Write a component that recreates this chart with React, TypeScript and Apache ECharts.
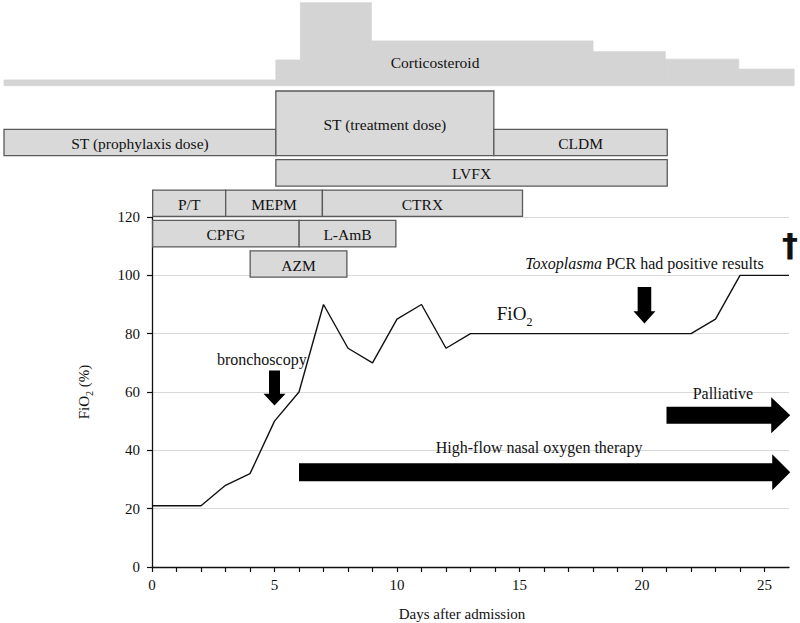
import { useEffect, useRef } from 'react';
import * as echarts from 'echarts';

// FiO2 course (days after admission, %)
const days = [0, 1, 2, 3, 4, 5, 6, 7, 8, 9, 10, 11, 12, 13, 14, 15, 16, 17, 18, 19, 20, 21, 22, 23, 24, 25, 26];
const fio2 = [21, 21, 21, 28, 32, 50, 60, 90, 75, 70, 85, 90, 75, 80, 80, 80, 80, 80, 80, 80, 80, 80, 80, 85, 100, 100, 100];

const xTicks = [0, 5, 10, 15, 20, 25];
const yTicks = [0, 20, 40, 60, 80, 100, 120];

// Corticosteroid relative dose (% of peak) per period [startDay, endDay]
const steroidStart = [-6, 5.1, 6.1, 9.0, 18.05, 21.0, 24.0];
const steroidEnd = [5.1, 6.1, 9.0, 18.05, 21.0, 24.0, 26.26];
const steroidDose = [6.9, 31, 100, 54, 41, 32, 20];
const steroidLabel = { text: 'Corticosteroid', day: 11.6, dose: 28.5 };

// Treatments (Gantt): label, start day, end day, row
const drugLabels = ['ST (prophylaxis dose)', 'ST (treatment dose)', 'CLDM', 'LVFX', 'P/T', 'MEPM', 'CTRX', 'CPFG', 'L-AmB', 'AZM'];
const drugStart = [-6, 5.1, 14.0, 5.1, 0.07, 3.05, 7.0, 0.07, 6.05, 4.05];
const drugEnd = [5.1, 14.0, 21.08, 21.08, 3.05, 7.0, 15.17, 6.05, 10.0, 8.0];
const drugRow = [0, 0, 0, 1, 2, 2, 2, 3, 3, 4];
const drugExtraRows = [0, 1.26, 0, 0, 0, 0, 0, 0, 0, 0];

// Block arrows: [fromDay, fromFiO2, toDay, toFiO2]
const arrowFrom = [[6, 32.5], [21, 52], [5, 67.4], [20.1, 96]];
const arrowTo = [[26.05, 32.5], [26.05, 52], [5, 55.4], [20.1, 83.5]];
const arrowShaft = [18, 17, 11, 13.6];
const arrowHead = [36, 36, 22, 22];
const arrowHeadLen = [18, 19, 11.7, 12.3];

// Annotations: [day, FiO2]
const noteText = [
  'High-flow nasal oxygen therapy',
  'Palliative',
  'bronchoscopy',
  '{i|Toxoplasma} PCR had positive results',
  '{m|FiO}{s|2}',
  '{d|†}',
];
const notePos = [[15.8, 41], [23.3, 59.4], [4.48, 71.2], [20.1, 104], [14.8, 87], [26.04, 110.5]];

const FONT = "'Liberation Serif', 'Times New Roman', serif";

export default function App() {
  const ref = useRef<HTMLDivElement>(null);
  useEffect(() => {
    document.body.style.margin = '0';
    const chart = echarts.init(ref.current!, null, { renderer: 'svg' });
    const option: any = {
      animation: false,
      backgroundColor: '#ffffff',
      textStyle: { fontFamily: FONT },
      grid: [
        { left: 152, right: 11, top: 217, bottom: 56, outerBoundsMode: 'none', containLabel: false },
        { left: 4, width: 796, top: 112.125, height: 151.875, outerBoundsMode: 'none' },
        { left: 4, width: 796, top: 2.7, height: 83, outerBoundsMode: 'none' },
      ],
      xAxis: [
        {
          gridIndex: 0,
          type: 'value',
          min: 0,
          max: 26,
          interval: 1,
          name: 'Days after admission',
          nameLocation: 'middle',
          nameGap: 39,
          nameTextStyle: { fontFamily: FONT, fontSize: 15, color: '#111', padding: [0, 17, 0, 0] },
          axisLine: { show: true, lineStyle: { color: '#111', width: 1.3 } },
          axisTick: { show: true, length: 5, lineStyle: { color: '#111', width: 1.2 } },
          axisLabel: {
            fontFamily: FONT,
            fontSize: 15,
            color: '#111',
            margin: 10,
            showMaxLabel: false,
            formatter: (v: number) => (xTicks.indexOf(v) >= 0 ? String(v) : ''),
          },
          splitLine: { show: false },
        },
        { gridIndex: 1, type: 'value', min: -6, max: 26.5, show: false },
        { gridIndex: 2, type: 'value', min: -6, max: 26.5, show: false },
      ],
      yAxis: [
        {
          gridIndex: 0,
          type: 'value',
          min: yTicks[0],
          max: yTicks[yTicks.length - 1],
          interval: 20,
          name: '{m|FiO}{s|2}{m| (%)}',
          nameLocation: 'middle',
          nameRotate: 90,
          nameGap: 58,
          nameTextStyle: {
            fontFamily: FONT,
            color: '#111',
            rich: {
              m: { fontFamily: FONT, fontSize: 15, lineHeight: 20, color: '#111' },
              s: { fontFamily: FONT, fontSize: 10, lineHeight: 10, verticalAlign: 'bottom', color: '#111' },
            },
          },
          axisLine: { show: true, lineStyle: { color: '#111', width: 1.3 } },
          axisTick: { show: true, length: 5, lineStyle: { color: '#111', width: 1.2 } },
          axisLabel: { fontFamily: FONT, fontSize: 15, color: '#111', margin: 12 },
          splitLine: { show: true, lineStyle: { color: '#d9d9d9', width: 1 } },
        },
        { gridIndex: 1, type: 'value', min: -1, max: 4, inverse: true, show: false },
        { gridIndex: 2, type: 'value', min: 0, max: 100, show: false },
      ],
      series: [
        {
          type: 'custom',
          name: 'Corticosteroid',
          xAxisIndex: 2,
          yAxisIndex: 2,
          clip: false,
          silent: true,
          data: steroidDose.map((d, i) => [steroidStart[i], steroidEnd[i], d]),
          encode: { x: [0, 1], y: 2 },
          renderItem: (params: any, api: any) => {
            const i = params.dataIndex;
            const p1 = api.coord([steroidStart[i], steroidDose[i]]);
            const p2 = api.coord([steroidEnd[i], 0]);
            return {
              type: 'rect',
              shape: { x: p1[0], y: p1[1], width: p2[0] - p1[0], height: p2[1] - p1[1] },
              style: { fill: '#d4d4d4', stroke: '#d4d4d4', lineWidth: 0.8 },
            };
          },
        },
        {
          type: 'custom',
          name: 'CorticosteroidLabel',
          xAxisIndex: 2,
          yAxisIndex: 2,
          clip: false,
          silent: true,
          z: 5,
          data: [[steroidLabel.day, steroidLabel.dose]],
          renderItem: (params: any, api: any) => {
            const p = api.coord([steroidLabel.day, steroidLabel.dose]);
            return {
              type: 'text',
              style: {
                x: p[0],
                y: p[1],
                text: steroidLabel.text,
                align: 'center',
                verticalAlign: 'middle',
                fontFamily: FONT,
                fontSize: 15.5,
                fill: '#111',
              },
            };
          },
        },
        {
          type: 'custom',
          name: 'Treatments',
          xAxisIndex: 1,
          yAxisIndex: 1,
          clip: false,
          silent: true,
          z: 5,
          data: drugLabels.map((_, i) => [drugStart[i], drugEnd[i], drugRow[i]]),
          encode: { x: [0, 1], y: 2 },
          renderItem: (params: any, api: any) => {
            const i = params.dataIndex;
            const half = 0.435;
            const p1 = api.coord([drugStart[i], drugRow[i] - half - drugExtraRows[i]]);
            const p2 = api.coord([drugEnd[i], drugRow[i] + half]);
            return {
              type: 'rect',
              shape: { x: p1[0], y: p1[1], width: p2[0] - p1[0], height: p2[1] - p1[1] },
              style: { fill: '#d9d9d9', stroke: '#5a5a5a', lineWidth: 1.3 },
              textContent: {
                type: 'text',
                style: {
                  text: drugLabels[i],
                  fontFamily: FONT,
                  fontSize: 15.5,
                  fill: '#111',
                },
              },
              textConfig: { position: 'inside', offset: [0, 1] },
            };
          },
        },
        {
          type: 'line',
          name: 'FiO2',
          xAxisIndex: 0,
          yAxisIndex: 0,
          data: days.map((d, i) => [d, fio2[i]]),
          symbol: 'none',
          lineStyle: { color: '#111', width: 1.4 },
          z: 3,
        },
        {
          type: 'custom',
          name: 'Arrows',
          xAxisIndex: 0,
          yAxisIndex: 0,
          clip: false,
          silent: true,
          z: 4,
          data: arrowFrom.map((fr, i) => [fr[0], fr[1], arrowTo[i][0], arrowTo[i][1]]),
          encode: { x: [0, 2], y: [1, 3] },
          renderItem: (params: any, api: any) => {
            const i = params.dataIndex;
            const s = api.coord(arrowFrom[i]);
            const e = api.coord(arrowTo[i]);
            const dx = e[0] - s[0];
            const dy = e[1] - s[1];
            const len = Math.sqrt(dx * dx + dy * dy) || 1;
            const ux = dx / len;
            const uy = dy / len;
            const nx = -uy;
            const ny = ux;
            const hl = arrowHeadLen[i];
            const sw = arrowShaft[i] / 2;
            const hw = arrowHead[i] / 2;
            const b = [e[0] - ux * hl, e[1] - uy * hl];
            const pts = [
              [s[0] + nx * sw, s[1] + ny * sw],
              [b[0] + nx * sw, b[1] + ny * sw],
              [b[0] + nx * hw, b[1] + ny * hw],
              [e[0], e[1]],
              [b[0] - nx * hw, b[1] - ny * hw],
              [b[0] - nx * sw, b[1] - ny * sw],
              [s[0] - nx * sw, s[1] - ny * sw],
            ];
            return { type: 'polygon', shape: { points: pts }, style: { fill: '#000' } };
          },
        },
        {
          type: 'custom',
          name: 'Notes',
          xAxisIndex: 0,
          yAxisIndex: 0,
          clip: false,
          silent: true,
          z: 5,
          data: notePos.map((p) => [p[0], p[1]]),
          renderItem: (params: any, api: any) => {
            const i = params.dataIndex;
            const p = api.coord(notePos[i]);
            return {
              type: 'text',
              style: {
                x: p[0],
                y: p[1],
                text: noteText[i],
                align: 'center',
                verticalAlign: 'middle',
                fontFamily: FONT,
                fontSize: 16,
                fill: '#111',
                rich: {
                  m: { fontFamily: FONT, fontSize: 19, lineHeight: 30, fill: '#111' },
                  s: { fontFamily: FONT, fontSize: 12, lineHeight: 12, verticalAlign: 'bottom', fill: '#111' },
                  i: { fontFamily: FONT, fontSize: 16, fontStyle: 'italic', fill: '#111' },
                  d: { fontFamily: "'DejaVu Sans', sans-serif", fontSize: 32, fontWeight: 'bold', fill: '#111' },
                },
              },
            };
          },
        },
      ],
    };
    chart.setOption(option);
    return () => chart.dispose();
  }, []);
  return <div ref={ref} style={{ width: 800, height: 623 }} />;
}
